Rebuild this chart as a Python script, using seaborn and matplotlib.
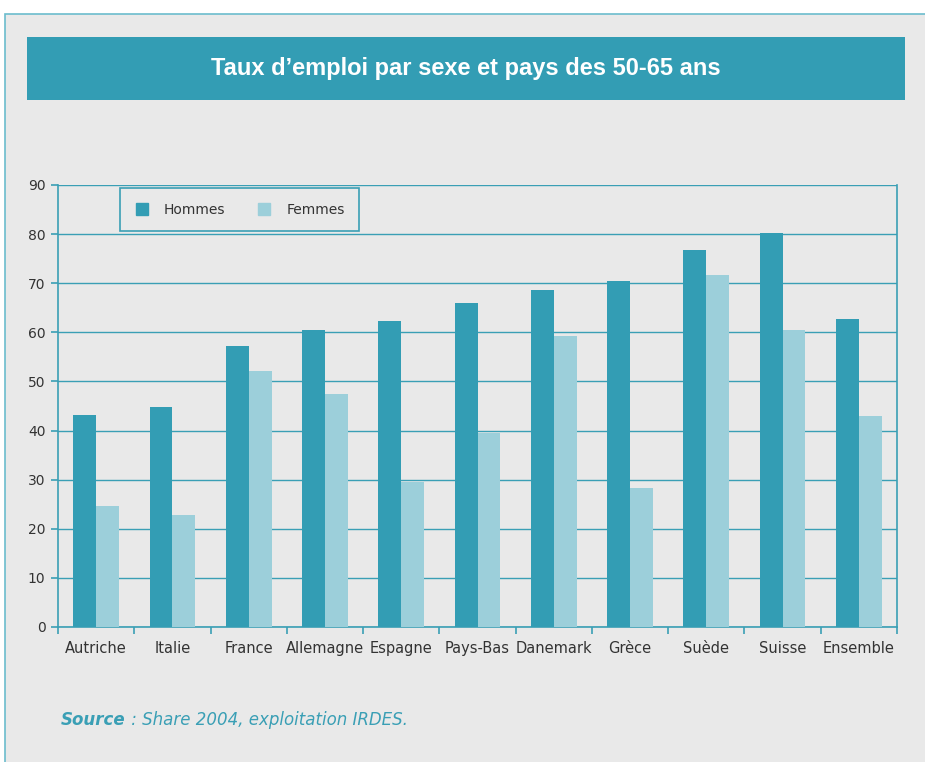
import matplotlib
matplotlib.use("Agg")
import matplotlib.pyplot as plt
import seaborn as sns
import pandas as pd
from matplotlib.patches import Rectangle
from matplotlib.lines import Line2D

categories = ["Autriche", "Italie", "France", "Allemagne", "Espagne", "Pays-Bas",
              "Danemark", "Grèce", "Suède", "Suisse", "Ensemble"]
hommes = [43.2, 44.8, 57.2, 60.5, 62.3, 66.0, 68.6, 70.5, 76.8, 80.2, 62.7]
femmes = [24.6, 22.8, 52.1, 47.4, 29.5, 39.5, 59.3, 28.3, 71.7, 60.5, 43.0]
series = ["Hommes", "Femmes"]
yticks = [0, 10, 20, 30, 40, 50, 60, 70, 80, 90]

title = "Taux d\u2019emploi par sexe et pays des 50-65 ans"

TEAL = "#339db4"
LIGHT = "#9ccfda"
BG = "#e9e9e9"
LINE = "#3a9fb5"
TXT = "#333333"

df = pd.DataFrame({
    "pays": categories * 2,
    "sexe": [series[0]] * len(categories) + [series[1]] * len(categories),
    "taux": hommes + femmes,
})

sns.set_theme(style="white")
plt.rcParams["font.family"] = ["DejaVu Sans"]

W, H = 925, 762
fig = plt.figure(figsize=(W / 100, H / 100), dpi=100)
fig.patch.set_facecolor("white")

def fx(x):
    return x / W

def fy(y):
    return 1 - y / H

# outer gray panel with teal border
panel = Rectangle((fx(5), -0.01), 1 - fx(5) + 0.01, fy(14) + 0.01, transform=fig.transFigure,
                  facecolor=BG, edgecolor="#6bbccd", linewidth=1.2, zorder=-3)
fig.patches.append(panel)

# title banner
banner = Rectangle((fx(27), fy(100)), fx(905) - fx(27), fy(37) - fy(100),
                   transform=fig.transFigure, facecolor=TEAL, edgecolor="none", zorder=-2)
fig.patches.append(banner)
fig.text(fx(466), fy(69), title, ha="center", va="center", color="white",
         fontsize=17, fontweight="bold", family=["Liberation Sans", "DejaVu Sans"])

ax = fig.add_axes([fx(58), fy(627), fx(897) - fx(58), fy(185) - fy(627)])
ax.set_facecolor(BG)

sns.barplot(data=df, x="pays", y="taux", hue="sexe", order=categories,
            hue_order=series, palette=[TEAL, LIGHT], width=0.6, saturation=1,
            ax=ax, zorder=3, edgecolor="none")

ax.set_ylim(0, 90)
ax.set_xlim(-0.5, len(categories) - 0.5)
ax.set_yticks(yticks)
ax.set_yticklabels([str(v) for v in yticks])
ax.yaxis.grid(True, color=LINE, linewidth=1.0, zorder=0)
ax.set_axisbelow(True)
ax.set_xlabel("")
ax.set_ylabel("")

ax.set_xticks(range(len(categories)))
ax.set_xticklabels(categories)
ax.set_xticks([i - 0.5 for i in range(len(categories) + 1)], minor=True)
ax.tick_params(axis="x", which="major", bottom=True, length=0, pad=10,
               labelsize=10.5, colors=TXT)
ax.tick_params(axis="x", which="minor", bottom=True, length=5, color=LINE,
               width=1.2, direction="out")
ax.tick_params(axis="y", which="major", left=True, length=5, width=1.2, direction="out",
               labelsize=10, labelcolor=TXT, color=LINE, pad=4)

for side in ["left", "right", "bottom"]:
    ax.spines[side].set_visible(True)
    ax.spines[side].set_color(LINE)
    ax.spines[side].set_linewidth(1.2)
ax.spines["top"].set_visible(False)

# legend
if ax.get_legend() is not None:
    ax.get_legend().remove()
handles = [Line2D([0], [0], marker="s", linestyle="none", markersize=9,
                  markerfacecolor=c, markeredgecolor=c) for c in (TEAL, LIGHT)]
leg = ax.legend(handles, series, ncol=2, loc="upper left",
                bbox_to_anchor=(fx(120 - 58) / (fx(897) - fx(58)), 0.993),
                borderaxespad=0, frameon=True, fancybox=False, facecolor=BG,
                edgecolor=LINE, fontsize=10, columnspacing=2.3, handletextpad=1.1,
                borderpad=1.05, handlelength=1.0,
                labelcolor=TXT, framealpha=1)
leg.get_frame().set_linewidth(1.2)
leg.set_zorder(5)

# source
fig.text(fx(61), fy(720), "Source", color=LINE, fontsize=12, fontweight="bold",
         fontstyle="italic", va="center", ha="left")
fig.text(fx(126), fy(720), " : Share 2004, exploitation IRDES.", color=LINE,
         fontsize=12, fontstyle="italic", va="center", ha="left")

fig.savefig("out.png", dpi=100, facecolor=fig.get_facecolor())
